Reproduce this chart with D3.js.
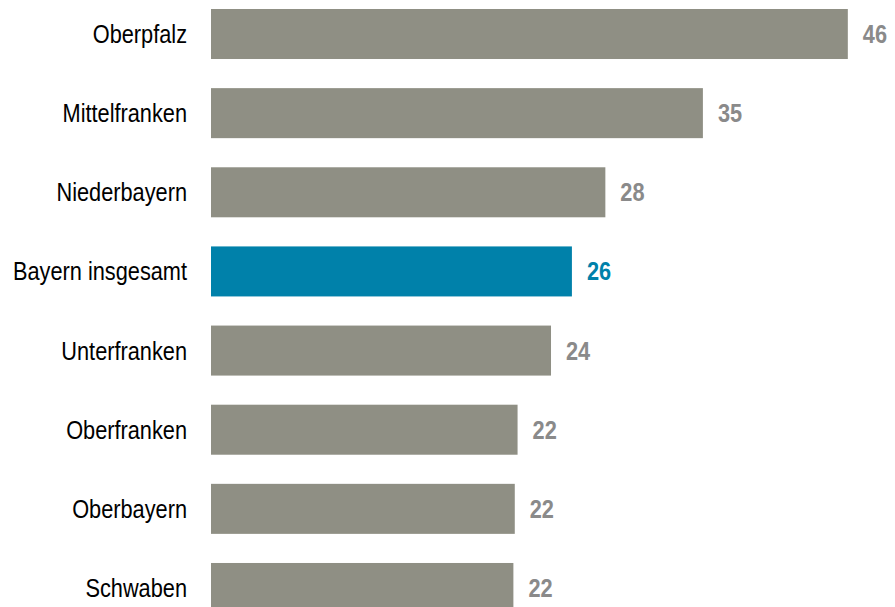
<!DOCTYPE html>
<html><head><meta charset="utf-8">
<script src="https://cdn.jsdelivr.net/npm/d3@7"></script>
<style>body{margin:0;background:#fff;overflow:hidden}</style>
</head><body>
<svg id="c" width="895" height="607"></svg>
<script>
const categories = ["Oberpfalz","Mittelfranken","Niederbayern","Bayern insgesamt","Unterfranken","Oberfranken","Oberbayern","Schwaben"];
const values = [45.7,35.3,28.3,25.9,24.4,22.0,21.8,21.7];
const highlight = "Bayern insgesamt";

const svg = d3.select("#c");
const x = d3.scaleLinear().domain([0,46]).range([211,852]);
const y = d3.scaleBand().domain(categories).range([9,613]).paddingInner(0.368).paddingOuter(0);
const font = "'Liberation Sans Narrow','Arial Narrow','Liberation Sans',Arial,sans-serif";
const sx = 0.87;

const g = svg.append("g");
g.selectAll("rect").data(categories).join("rect")
  .attr("x", x(0)).attr("y", d=>y(d))
  .attr("width", (d,i)=>x(values[i])-x(0)).attr("height", y.bandwidth())
  .attr("fill", d=>d===highlight?"#0081aa":"#8f8f84");

g.selectAll("text.cat").data(categories).join("text").attr("class","cat")
  .attr("transform", d=>`translate(${x(0)-24},${y(d)+y.bandwidth()/2}) scale(${sx},1)`)
  .attr("dy","0.36em")
  .attr("text-anchor","end").attr("font-family",font).attr("font-size",25)
  .attr("fill","#000").text(d=>d);

g.selectAll("text.val").data(categories).join("text").attr("class","val")
  .attr("transform", (d,i)=>`translate(${x(values[i])+15},${y(d)+y.bandwidth()/2}) scale(${sx},1)`)
  .attr("dy","0.36em")
  .attr("font-family",font).attr("font-size",25).attr("font-weight","bold")
  .attr("fill", d=>d===highlight?"#0081aa":"#8a8a8a")
  .text((d,i)=>d3.format(".0f")(values[i]));
</script>
</body></html>
